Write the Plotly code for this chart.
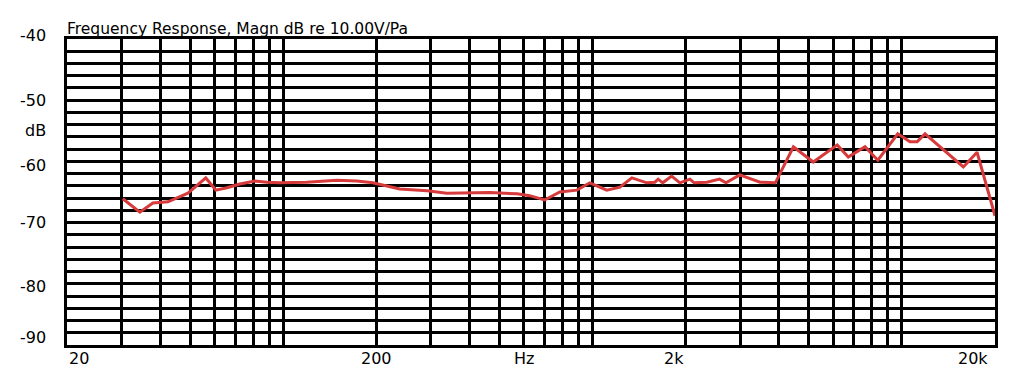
import math
import plotly.graph_objects as go

# Frequency response data (Hz, dB)
freq_hz = [30.3, 34.4, 37.9, 42.4, 49.2, 56.2, 60.6, 65.8, 72.4, 81, 88.6, 97.6, 119, 149, 173, 195,
           238, 292, 338, 372, 466, 570, 626, 700, 784, 890, 980, 1112, 1200, 1226, 1340, 1498, 1590,
           1630, 1686, 1802, 1916, 2064, 2130, 2343, 2573, 2700, 2990, 3480, 3900, 4460, 5170, 6180,
           6710, 7600, 8360, 9700, 10620, 11200, 11880, 15800, 17500, 20000]
mag_db = [-66.1, -68.3, -66.8, -66.6, -65.2, -62.7, -64.7, -64.3, -63.7, -63.2, -63.4, -63.5, -63.4,
          -63.1, -63.2, -63.5, -64.5, -64.8, -65.2, -65.2, -65.1, -65.3, -65.6, -66.3, -65.0, -64.7,
          -63.5, -64.7, -64.4, -64.2, -62.7, -63.5, -63.4, -62.9, -63.5, -62.4, -63.5, -62.9, -63.5,
          -63.4, -62.9, -63.5, -62.2, -63.4, -63.5, -57.6, -60.1, -57.3, -59.3, -57.6, -59.8, -55.5,
          -56.8, -56.8, -55.5, -60.9, -58.5, -68.9]

x_grid = [20, 30, 40, 50, 60, 70, 80, 90, 100, 200, 300, 400, 500, 600, 700, 800, 900, 1000,
          2000, 3000, 4000, 5000, 6000, 7000, 8000, 9000, 10000, 20000]
y_grid = list(range(-90, -39, 2))

x_labels = ["20", "200", "Hz", "2k", "20k"]
x_label_pos = [20, 200, 600, 2000, 20000]
x_label_anchor = ["left", "center", "center", "right", "right"]
x_label_shift = [0, 0, 0, 0, -5]

y_labels = ["-40", "-50", "dB", "-60", "-70", "-80", "-90"]
y_label_pos = [-40, -50, -55, -60, -70, -80, -90]
y_label_shift = [4, 0, 0, -4, 0, -3, 8]

title_text = "Frequency Response, Magn dB re 10.00V/Pa"

FONT = "DejaVu Sans"
XMIN, XMAX = math.log10(20), math.log10(20000)

fig = go.Figure()
fig.add_trace(go.Scatter(x=freq_hz, y=mag_db, mode="lines",
                         line=dict(color="#d63a3a", width=3), showlegend=False))

fig.update_xaxes(type="log", range=[XMIN, XMAX], tickvals=x_grid, showticklabels=False,
                 showgrid=True, gridcolor="black", gridwidth=3, ticks="",
                 showline=True, linecolor="black", linewidth=3, mirror=True, zeroline=False)
fig.update_yaxes(range=[-90, -40], tickvals=y_grid, showticklabels=False,
                 showgrid=True, gridcolor="black", gridwidth=3, ticks="",
                 showline=True, linecolor="black", linewidth=3, mirror=True, zeroline=False)

annotations = []
for t, p, a, s in zip(x_labels, x_label_pos, x_label_anchor, x_label_shift):
    frac = (math.log10(p) - XMIN) / (XMAX - XMIN)
    annotations.append(dict(text=t, x=frac, xref="paper", y=0, yref="paper",
                            xanchor=a, yanchor="top", showarrow=False, yshift=-2, xshift=s,
                            font=dict(family=FONT, size=16, color="black")))
for t, p, s in zip(y_labels, y_label_pos, y_label_shift):
    annotations.append(dict(text=t, x=0, xref="paper", y=p, yref="y", xanchor="right",
                            yanchor="middle", showarrow=False, xshift=-19, yshift=s,
                            font=dict(family=FONT, size=16, color="black")))
annotations.append(dict(text=title_text, x=0, xref="paper", y=1, yref="paper", xanchor="left",
                        yanchor="bottom", showarrow=False, xshift=-2, yshift=-1,
                        font=dict(family=FONT, size=15.5, color="black")))

fig.update_layout(width=1024, height=373, margin=dict(l=67, r=29, t=39, b=28),
                  paper_bgcolor="white", plot_bgcolor="white", annotations=annotations)

fig.write_html("out.html", config={"displayModeBar": False},
               post_script="document.body.style.margin='0';document.body.style.overflow='hidden';")
